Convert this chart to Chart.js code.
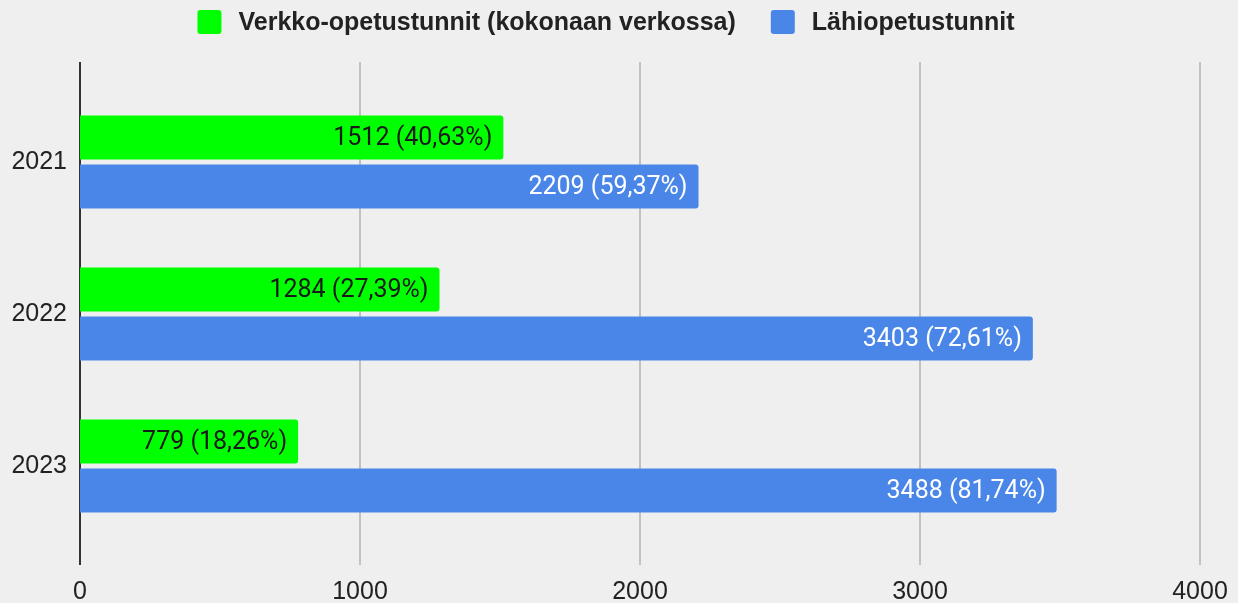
<!DOCTYPE html>
<html>
<head>
<meta charset="utf-8">
<script src="https://cdn.jsdelivr.net/npm/chart.js@4/dist/chart.umd.min.js"></script>
<style>
  html, body { margin: 0; padding: 0; background: #efefef; }
  #wrap { width: 1238px; height: 603px; }
</style>
</head>
<body>
<div id="wrap"><canvas id="chart" width="1238" height="603"></canvas></div>
<script>
const years = ['2021', '2022', '2023'];
const verkkoTunnit = [1512, 1284, 779];
const lahiTunnit = [2209, 3403, 3488];
const xTicks = [0, 1000, 2000, 3000, 4000];
const seriesNames = ['Verkko-opetustunnit (kokonaan verkossa)', 'Lähiopetustunnit'];

const FONT = 'Roboto, Arial, sans-serif';
const AXIS_FONT = '"Liberation Sans", Arial, sans-serif';

function pct(a, b) {
    return (a / (a + b) * 100).toFixed(2).replace('.', ',') + '%';
}

// pystysuorat ruudukkoviivat ja akseli hieman piirtoalueen yli
const gridPlugin = {
    id: 'gridLines',
    beforeDatasetsDraw(chart) {
        const ctx = chart.ctx;
        const x = chart.scales.x;
        ctx.save();
        xTicks.forEach(t => {
            const px = Math.round(x.getPixelForValue(t));
            ctx.beginPath();
            ctx.lineWidth = 2;
            ctx.strokeStyle = t === 0 ? '#333333' : '#c2c2c2';
            ctx.moveTo(px, 62);
            ctx.lineTo(px, 565);
            ctx.stroke();
        });
        ctx.restore();
    }
};

// arvot palkkien sisälle loppupäähän
const labelPlugin = {
    id: 'barLabels',
    afterDatasetsDraw(chart) {
        const ctx = chart.ctx;
        ctx.save();
        ctx.font = '25px ' + FONT;
        ctx.textAlign = 'right';
        ctx.textBaseline = 'middle';
        chart.data.datasets.forEach((ds, di) => {
            const meta = chart.getDatasetMeta(di);
            meta.data.forEach((bar, i) => {
                const a = verkkoTunnit[i], b = lahiTunnit[i];
                const v = ds.data[i];
                const txt = v + ' (' + pct(v, di === 0 ? b : a) + ')';
                ctx.fillStyle = di === 0 ? '#1a1a1a' : '#ffffff';
                ctx.fillText(txt, bar.x - 11, bar.y + 1);
            });
        });
        ctx.restore();
    }
};

const legendPlugin = {
    id: 'topLegend',
    afterDraw(chart) {
        const ctx = chart.ctx;
        ctx.save();
        ctx.font = 'bold 25px ' + AXIS_FONT;
        ctx.textBaseline = 'middle';
        const box = 24, gapText = 17, gapItem = 35;
        const widths = chart.data.datasets.map(ds => ctx.measureText(ds.label).width);
        let total = 0;
        widths.forEach((w, i) => { total += box + gapText + w + (i < widths.length - 1 ? gapItem : 0); });
        let x = 606 - total / 2;
        const cy = 22;
        chart.data.datasets.forEach((ds, i) => {
            ctx.fillStyle = ds.backgroundColor;
            ctx.beginPath();
            ctx.roundRect(x, cy - box / 2, box, box, 3);
            ctx.fill();
            ctx.fillStyle = '#222222';
            ctx.fillText(ds.label, x + box + gapText, cy + 1);
            x += box + gapText + widths[i] + gapItem;
        });
        ctx.restore();
    }
};

new Chart(document.getElementById('chart'), {
    type: 'bar',
    data: {
        labels: years,
        datasets: [
            {
                label: seriesNames[0],
                data: verkkoTunnit,
                backgroundColor: '#00ff00',
                borderRadius: 3,
                borderSkipped: 'start',
                categoryPercentage: 0.645,
                barPercentage: 0.9
            },
            {
                label: seriesNames[1],
                data: lahiTunnit,
                backgroundColor: '#4a86e8',
                borderRadius: 3,
                borderSkipped: 'start',
                categoryPercentage: 0.645,
                barPercentage: 0.9
            }
        ]
    },
    options: {
        indexAxis: 'y',
        responsive: false,
        animation: false,
        layout: { padding: { top: 86, right: 0, left: 0, bottom: 0 } },
        plugins: {
            legend: { display: false },
            tooltip: { enabled: false }
        },
        scales: {
            x: {
                min: 0,
                max: 4000,
                afterBuildTicks: s => { s.ticks = xTicks.map(v => ({ value: v })); },
                afterFit: s => { s.height = 61; s.paddingRight = 38; },
                grid: { display: false, drawTicks: false },
                border: { display: false },
                ticks: {
                    padding: 35,
                    color: '#222222',
                    font: { family: AXIS_FONT, size: 25 },
                    callback: v => String(v)
                }
            },
            y: {
                afterFit: s => { s.width = 80; },
                grid: { display: false, drawTicks: false },
                border: { display: false },
                ticks: {
                    padding: 13,
                    color: '#222222',
                    font: { family: AXIS_FONT, size: 25 }
                }
            }
        }
    },
    plugins: [gridPlugin, labelPlugin, legendPlugin]
});
</script>
</body>
</html>
